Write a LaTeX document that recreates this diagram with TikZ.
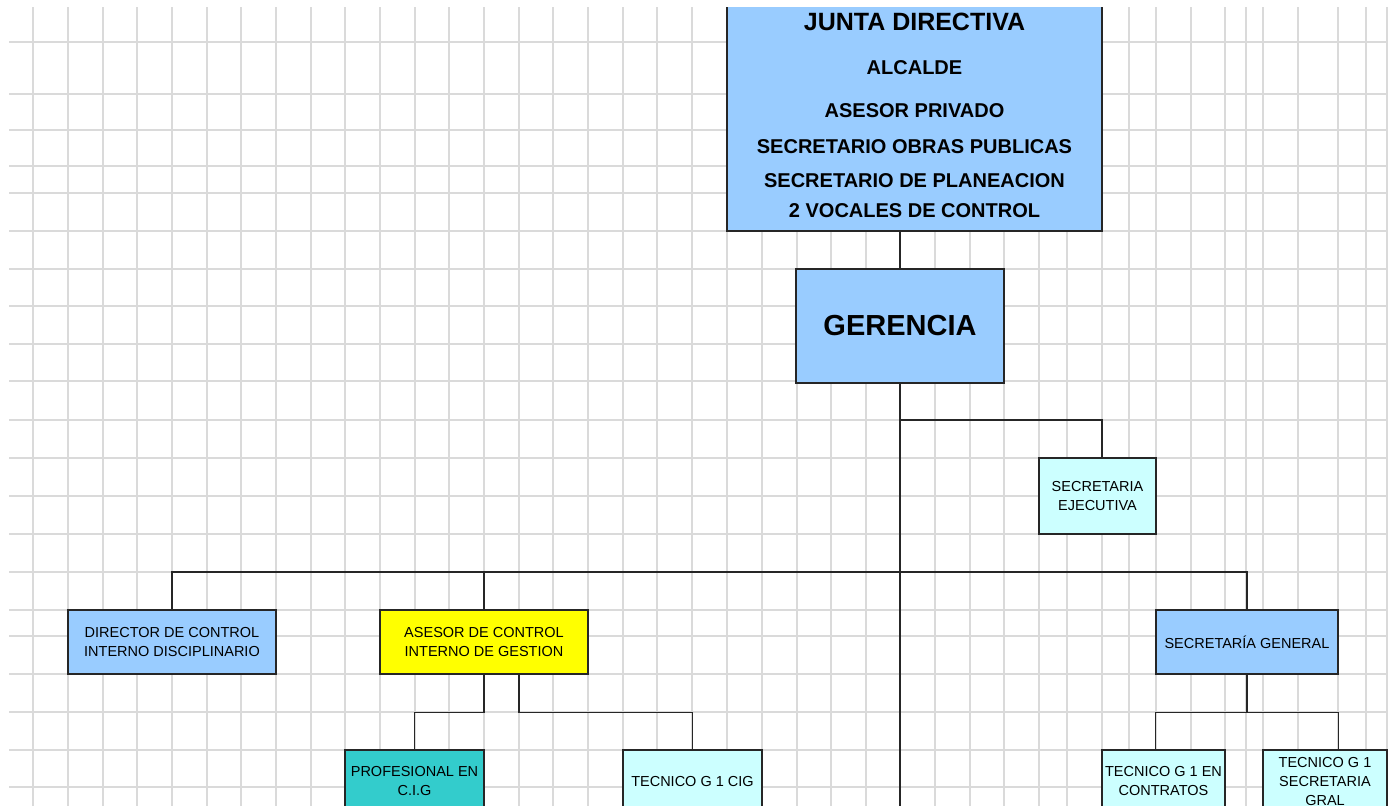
\documentclass[tikz,border=0pt]{standalone}
\usepackage{fontspec}
\setmainfont{Liberation Sans}
\definecolor{jblue}{HTML}{99CCFF}
\definecolor{jcyan}{HTML}{CCFFFF}
\definecolor{jyellow}{HTML}{FFFF00}
\definecolor{jteal}{HTML}{33CCCC}
\definecolor{gridgray}{HTML}{DADADA}
\tikzset{
  orgbox/.style={draw=black!85,line width=1.2pt,inner sep=0pt,align=center,
    font=\fontsize{14.5}{19}\selectfont},
  juntaline/.style={inner sep=0pt,font=\bfseries\fontsize{20}{24}\selectfont},
  link/.style={draw=black!85,line width=1.2pt},
}
\begin{document}
\begin{tikzpicture}[x=1pt,y=-1pt]
				\useasboundingbox (0,0) rectangle (1393,806);
				\fill[white] (0,0) rectangle (1393,806);
				\begin{scope}
				\clip (9,7) rectangle (1389,806);
				%sheet grid
				\foreach \gx in {33,68,103,137,172,207,241,276,311,345,380,415,449,484,519,553,588,623,657,692,727,762,797,831,866,900,935,970,1004,1039,1067,1102,1129,1156,1191,1225,1246,1263,1298,1338,1366,1387}
					\draw[gridgray,line width=1.2pt] (\gx,7) -- (\gx,806);
				\foreach \gy in {42,94,130,166,193,231,269,306,344,381,420,458,496,534,572,610,636,674,712,750,787}
					\draw[gridgray,line width=1.2pt] (9,\gy) -- (1387,\gy);
				%junta
				\node[orgbox,fill=jblue,minimum width=375pt,minimum height=241pt] (junta) at (914.5,110.5) {};
				\node[juntaline,font=\bfseries\fontsize{25}{30}\selectfont] (jtitle) at (914.5,21.5) {JUNTA DIRECTIVA};
				\node[juntaline] (jalc) at (914.5,67.5) {ALCALDE};
				\node[juntaline] (jase) at (914.5,110.8) {ASESOR PRIVADO};
				\node[juntaline] (jobr) at (914.5,147) {SECRETARIO OBRAS PUBLICAS};
				\node[juntaline] (jpla) at (914.5,181) {SECRETARIO DE PLANEACION};
				\node[juntaline] (jvoc) at (914.5,211) {2 VOCALES DE CONTROL};
				%gerencia
				\node[orgbox,fill=jblue,minimum width=208pt,minimum height=114pt,
					font=\bfseries\fontsize{29}{34}\selectfont] (ger) at (900,326) {GERENCIA};
				\node[orgbox,fill=jcyan,minimum width=117pt,minimum height=76pt] (secej) at (1097.5,496) {SECRETARIA\\EJECUTIVA};
				%second level
				\node[orgbox,fill=jblue,minimum width=208pt,minimum height=64pt] (dir) at (172,642) {DIRECTOR DE CONTROL\\INTERNO DISCIPLINARIO};
				\node[orgbox,fill=jyellow,minimum width=208pt,minimum height=64pt] (ase) at (484,642) {ASESOR DE CONTROL\\INTERNO DE GESTION};
				\node[orgbox,fill=jblue,minimum width=182pt,minimum height=64pt] (secgen) at (1247,642) {SECRETAR\'IA GENERAL};
				%third level
				\node[orgbox,fill=jteal,minimum width=139pt,minimum height=62pt] (prof) at (414.5,781) {PROFESIONAL EN\\C.I.G};
				\node[orgbox,fill=jcyan,minimum width=139pt,minimum height=62pt] (tcig) at (692.5,781) {TECNICO G 1 CIG};
				\node[orgbox,fill=jcyan,minimum width=123pt,minimum height=62pt] (tgc) at (1163.5,781) {TECNICO G 1 EN\\CONTRATOS};
				\node[orgbox,fill=jcyan,minimum width=124pt,minimum height=62pt] (tgs) at (1325,781) {TECNICO G 1\\SECRETARIA\\GRAL};
				%connectors
				\coordinate (trunkend) at (900,806);
				\coordinate (b1) at (900,420);
				\coordinate (b2) at (900,572);
				\draw[link] (junta.south -| ger.north) -- (ger.north);
				\draw[link] (ger.south) -- (trunkend);
				\draw[link] (b1) -| ([xshift=4.5pt]secej.north);
				\draw[link] (dir.north) |- (b2) -| (secgen.north);
				\draw[link] (ase.north) -- (ase.north |- b2);
				\draw[link] (ase.south) -- ++(0,38) -| (prof.north);
				\draw[link] ([xshift=35pt]ase.south) -- ++(0,38) -| (tcig.north);
				\draw[link] (secgen.south) -- ++(0,38) coordinate (b3);
				\draw[link] (secgen.south west |- tgc.north) |- (b3) -| (secgen.south east |- tgs.north);
				\end{scope}
\end{tikzpicture}
\end{document}
